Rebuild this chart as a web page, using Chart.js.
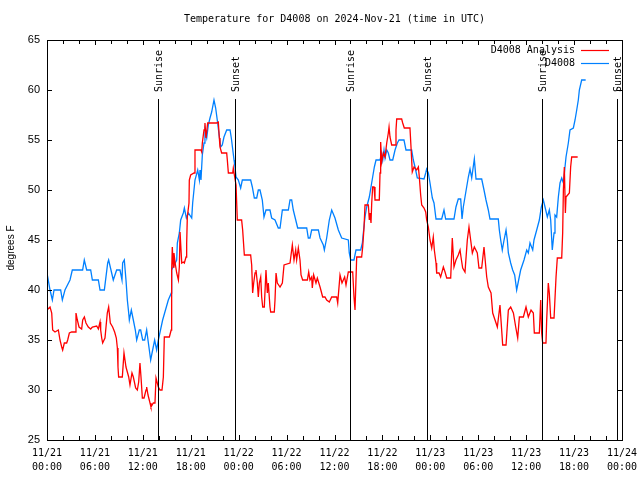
<!DOCTYPE html>
<html>
<head>
<meta charset="utf-8">
<script src="https://cdn.jsdelivr.net/npm/chart.js@4/dist/chart.umd.min.js"></script>
<style>
  html, body { margin: 0; padding: 0; background: #ffffff; }
  canvas { display: block; }
</style>
</head>
<body>
<canvas id="c" width="640" height="480"></canvas>
<script>
// ---- Data (hours since 2024-11-21 00:00 UTC, degrees F) ----
const obsTimes = [0,0.38,0.67,0.88,1.71,1.92,2.25,2.88,3.17,4.46,4.67,4.97,5.47,5.68,6.43,6.64,7.18,7.6,7.72,8.01,8.3,8.72,9.14,9.39,9.47,9.68,9.89,10.06,10.23,10.31,10.56,10.81,11.06,11.23,11.56,11.73,11.98,12.23,12.48,12.73,12.98,13.23,13.48,13.73,13.94,14.48,15.19,15.57,15.61,16.24,16.32,16.57,16.74,17.07,17.2,17.45,17.7,18.12,18.24,18.53,18.87,19.08,19.16,19.28,19.45,19.66,19.78,20.0,20.2,20.41,20.62,20.91,21.12,21.37,21.58,21.75,21.95,22.16,22.5,22.92,23.08,23.42,23.54,23.67,23.96,24.25,24.46,25.5,25.71,25.96,26.26,26.46,26.67,26.96,27.17,27.42,27.92,28.13,28.55,28.96,29.18,29.47,30.22,30.43,30.64,30.84,31.39,32.52,32.72,32.93,33.14,33.98,34.19,34.6,34.73,35.02,35.35,35.65,36.06,36.48,36.9,37.73,37.85,38.03,38.44,38.69,39.28,39.49,39.61,39.82,40.03,40.36,40.57,40.78,40.99,41.2,41.7,41.91,42.04,42.2,42.33,42.54,42.74,42.95,43.29,43.58,43.87,44.08,44.7,44.95,45.66,45.87,46.08,46.37,47.21,47.42,47.54,47.75,47.96,48.25,48.46,48.71,49.42,49.71,49.92,50.96,51.21,51.5,51.8,51.97,52.13,52.34,52.55,52.76,52.97,53.18,53.51,53.72,54.43,54.72,54.97,55.26,55.47,56.51,56.64,56.81,57.01,57.23,57.48,57.64,57.77,58.06,58.31,58.56,58.81,59.06,59.31,59.73,60.07,60.27,60.48,60.82,60.98,61.32,61.65,61.9,62.15,62.36,62.65,62.9,63.07,63.27,63.49,63.61,63.82,64.03,64.24,64.45,64.66,64.99,65.28,65.49,65.91,66.12,66.33,66.53,66.66,66.95,67.45];
const obsTemps = [41.7,40.0,39.0,40.0,40.0,39.0,40.0,41.0,42.0,42.0,43.0,42.0,42.0,41.0,41.0,40.0,40.0,42.7,43.0,42.0,41.0,42.0,42.0,41.0,42.7,43.0,41.0,39.0,37.7,37.0,38.0,37.0,36.0,35.0,36.0,36.0,35.0,35.0,36.0,34.5,33.0,34.0,35.0,34.0,35.0,37.0,39.0,39.7,42.0,43.0,44.7,45.7,47.0,47.7,48.2,47.2,47.7,47.2,48.7,51.0,52.0,51.0,52.0,51.0,53.5,54.7,56.0,55.2,56.5,57.2,57.8,59.0,58.2,56.7,55.3,54.3,54.5,55.3,56.0,56.0,55.2,53.0,52.3,51.3,51.0,50.2,51.0,51.0,50.3,49.2,49.2,50.0,50.0,49.0,47.3,48.0,48.0,47.2,47.0,46.2,46.2,48.0,48.0,49.0,49.0,48.0,46.2,46.2,45.2,45.2,46.0,46.0,45.2,44.5,44.0,45.2,47.0,48.0,47.2,46.0,45.2,45.0,43.7,43.0,43.0,44.0,44.0,44.7,45.7,47.3,48.3,49.3,50.3,51.3,52.3,53.0,53.0,53.7,53.0,54.0,53.2,54.0,53.7,53.0,53.0,54.0,54.7,55.0,55.0,54.0,54.0,53.0,52.3,51.2,51.1,51.7,52.1,51.7,50.7,49.2,48.7,47.1,47.1,48.0,47.1,47.1,48.3,49.1,49.1,47.1,48.3,49.3,50.3,51.3,52.1,51.2,53.1,51.1,51.1,50.0,49.0,48.0,47.1,47.1,46.0,45.0,44.0,45.0,46.0,45.0,43.7,42.7,42.0,41.5,40.0,41.0,42.0,43.0,44.0,43.7,44.7,44.0,45.0,46.0,47.0,48.3,49.0,48.3,47.3,48.0,47.0,44.0,45.7,47.5,47.3,49.3,50.7,51.2,50.7,53.3,54.7,56.0,56.2,57.0,58.0,59.0,60.0,61.0,61.0];

const anaTimes = [0,0.38,0.59,0.71,1.0,1.42,1.63,1.84,1.96,2.17,2.46,2.59,2.8,3.09,3.51,3.63,3.8,4.01,4.34,4.47,4.68,4.88,5.17,5.47,5.68,6.22,6.43,6.64,6.72,6.85,6.97,7.26,7.55,7.72,7.93,8.22,8.47,8.68,8.81,8.89,8.97,9.43,9.64,9.89,10.06,10.23,10.39,10.64,10.81,11.1,11.31,11.48,11.64,11.77,11.94,12.15,12.4,12.48,12.65,12.9,13.02,13.31,13.52,13.65,13.81,13.94,14.15,14.4,14.57,14.69,15.32,15.55,15.61,15.69,15.82,15.9,16.03,16.24,16.45,16.57,16.66,16.87,17.07,17.2,17.41,17.49,17.57,17.78,17.82,17.99,18.41,18.53,19.28,19.37,19.45,19.66,19.78,19.91,20.12,21.24,21.45,21.58,21.66,21.87,22.5,22.58,22.71,23.25,23.33,23.42,23.67,23.83,24.37,24.5,24.71,25.5,25.63,25.75,25.88,26.05,26.17,26.34,26.46,26.59,26.76,26.88,27.01,27.21,27.42,27.59,27.71,27.92,28.01,28.46,28.55,28.68,28.84,29.18,29.47,29.68,30.43,30.72,30.93,31.14,31.26,31.47,31.68,31.81,32.01,32.6,32.77,32.93,33.14,33.22,33.39,33.68,33.85,34.19,34.52,34.81,35.02,35.35,35.65,36.27,36.4,36.69,36.94,37.27,37.44,37.73,38.28,38.44,38.57,38.78,39.4,39.53,39.7,39.82,40.24,40.36,40.45,40.57,40.66,40.78,40.95,41.07,41.61,41.7,41.78,41.91,42.12,42.33,42.54,42.74,42.83,42.95,43.16,43.58,43.7,43.79,44.41,44.54,44.74,45.45,45.58,45.74,45.96,46.29,46.5,46.62,46.79,46.92,47.21,47.42,47.54,47.75,47.96,48.17,48.37,48.5,48.71,48.79,49.09,49.29,49.63,49.84,50.05,50.55,50.75,50.96,51.21,51.5,51.72,51.84,52.05,52.34,52.63,52.84,53.05,53.26,53.51,53.88,54.09,54.43,54.72,55.06,55.26,55.6,55.81,56.1,56.39,56.72,57.06,57.48,57.77,58.06,58.4,58.69,58.94,59.15,59.65,59.98,60.27,60.61,60.9,61.02,61.65,61.82,61.94,62.07,62.48,62.57,62.77,62.9,63.07,63.49,63.74,63.9,64.45,64.57,64.66,64.78,64.91,64.99,65.41,65.57,65.7,66.45];
const anaTemps = [38.0,38.3,37.7,36.0,35.8,36.0,35.0,34.3,34.0,34.7,34.7,35.0,35.7,35.8,35.8,37.7,37.0,36.3,36.1,37.0,37.3,36.7,36.3,36.1,36.3,36.4,36.1,36.8,36.0,35.2,34.7,35.2,37.7,38.3,36.7,36.3,35.8,35.2,34.2,32.3,31.3,31.3,33.7,32.3,31.8,31.3,30.5,31.7,31.3,30.2,30.0,30.8,32.7,31.3,29.2,29.2,30.0,30.3,29.5,28.7,28.3,28.7,28.7,31.2,30.7,30.3,30.0,30.0,31.3,35.3,35.3,36.0,42.0,44.3,42.3,43.7,42.8,41.7,41.0,42.3,45.8,42.7,42.8,42.7,43.3,44.7,47.3,48.7,51.0,51.5,51.7,54.0,54.0,53.8,54.7,56.0,56.7,55.2,56.7,56.7,56.8,55.2,54.3,53.7,53.7,53.0,51.7,51.7,52.2,51.7,50.5,47.0,47.0,46.0,43.5,43.5,42.5,39.7,40.7,41.7,42.0,40.7,39.3,40.7,41.3,39.3,38.3,38.3,42.0,39.7,40.7,38.3,37.8,37.8,39.0,41.7,40.7,40.3,40.7,42.5,42.7,44.5,43.0,44.0,43.0,44.2,43.0,41.5,41.0,41.0,41.8,41.0,41.3,40.2,41.5,40.7,41.2,40.3,39.3,39.3,39.0,38.8,39.3,39.3,38.7,41.5,40.7,41.3,40.5,41.8,41.8,39.3,38.0,43.3,43.3,44.3,46.3,48.5,48.5,47.0,47.7,46.7,48.7,50.3,50.3,49.0,49.0,51.7,54.8,52.8,53.7,53.3,54.7,55.7,56.3,55.3,54.5,54.5,56.0,57.1,57.1,56.7,56.2,56.2,54.3,51.8,52.3,52.0,52.3,51.3,49.5,48.5,48.2,47.8,47.0,46.3,45.0,44.2,45.3,44.0,42.7,41.7,41.7,41.3,42.3,41.8,41.2,41.2,45.2,42.3,43.0,43.5,44.0,43.3,42.2,41.8,45.0,46.3,45.0,43.7,44.3,43.7,42.2,42.2,44.3,41.3,40.3,39.7,37.7,37.0,36.3,38.5,34.5,34.5,38.0,38.3,37.7,36.3,35.2,37.3,37.3,38.3,37.3,38.0,37.7,35.7,35.7,39.0,35.7,34.7,34.7,37.0,40.7,39.7,37.2,37.2,41.3,43.2,43.2,45.7,50.0,52.3,47.7,49.3,49.7,52.3,53.3,53.3];

const seriesNames = ['D4008 Analysis', 'D4008'];
const sunTimes = [13.95, 23.54, 38.0, 47.56, 61.96, 71.4];
const sunLabels = ['Sunrise', 'Sunset', 'Sunrise', 'Sunset', 'Sunrise', 'Sunset'];
const xTickHours = [0, 6, 12, 18, 24, 30, 36, 42, 48, 54, 60, 66, 72];
const xTickDates = ['11/21','11/21','11/21','11/21','11/22','11/22','11/22','11/22','11/23','11/23','11/23','11/23','11/24'];
const xTickTimes = ['00:00','06:00','12:00','18:00','00:00','06:00','12:00','18:00','00:00','06:00','12:00','18:00','00:00'];
const titleText = 'Temperature for D4008 on 2024-Nov-21 (time in UTC)';
const yAxisLabel = 'degrees F';

const RED = '#ff0000';
const BLUE = 'rgb(0,128,255)';
const MONO = '"DejaVu Sans Mono", "Liberation Mono", monospace';
const SANS = '"Liberation Sans", Arial, sans-serif';

const toPts = (ts, vs) => ts.map((t, i) => ({ x: t, y: vs[i] }));

const gnuplotDecor = {
  id: 'gnuplotDecor',
  afterDatasetsDraw(chart) {
    const ctx = chart.ctx;
    const a = chart.chartArea;
    const xs = chart.scales.x, ys = chart.scales.y;
    ctx.save();
    ctx.strokeStyle = '#000';
    ctx.lineWidth = 1;
    ctx.fillStyle = '#000';
    ctx.font = '10px ' + MONO;
    sunTimes.forEach((t, i) => {
      const x = Math.round(xs.getPixelForValue(t)) + 0.5;
      ctx.beginPath();
      ctx.moveTo(x, 99);
      ctx.lineTo(x, a.bottom);
      ctx.stroke();
      ctx.save();
      ctx.translate(x + 0.5, 92);
      ctx.rotate(-Math.PI / 2);
      ctx.textAlign = 'left';
      ctx.textBaseline = 'middle';
      ctx.fillText(sunLabels[i], 0, 0);
      ctx.restore();
    });
    ctx.strokeRect(Math.round(a.left) + 0.5, Math.round(a.top) + 0.5, Math.round(a.right - a.left), Math.round(a.bottom - a.top));
    for (let h = 0; h <= 72; h += 2) {
      const x = Math.round(xs.getPixelForValue(h)) + 0.5;
      const len = (h % 6 === 0) ? 5 : 4;
      ctx.beginPath();
      ctx.moveTo(x, a.bottom); ctx.lineTo(x, a.bottom - len);
      ctx.moveTo(x, a.top); ctx.lineTo(x, a.top + len);
      ctx.stroke();
    }
    for (let v = 25; v <= 65; v += 5) {
      const y = Math.round(ys.getPixelForValue(v)) + 0.5;
      ctx.beginPath();
      ctx.moveTo(a.left, y); ctx.lineTo(a.left + 5, y);
      ctx.moveTo(a.right, y); ctx.lineTo(a.right - 5, y);
      ctx.stroke();
    }
    ctx.font = '10px ' + MONO;
    ctx.textAlign = 'center';
    ctx.textBaseline = 'middle';
    ctx.fillText(titleText, (a.left + a.right) / 2, 19);
    ctx.save();
    ctx.font = '10px ' + SANS;
    ctx.translate(11, 248);
    ctx.rotate(-Math.PI / 2);
    ctx.textAlign = 'center';
    ctx.textBaseline = 'middle';
    ctx.fillText(yAxisLabel, 0, 0);
    ctx.restore();
    ctx.font = '10px ' + MONO;
    ctx.textAlign = 'right';
    ctx.textBaseline = 'middle';
    chart.data.datasets.forEach((ds, i) => {
      const y = 50 + i * 13;
      ctx.fillStyle = '#000';
      ctx.fillText(ds.label, 575, y);
      ctx.strokeStyle = ds.borderColor;
      ctx.lineWidth = 1.2;
      ctx.beginPath();
      ctx.moveTo(581, Math.round(y) + 0.5);
      ctx.lineTo(609, Math.round(y) + 0.5);
      ctx.stroke();
    });
    ctx.restore();
  }
};

new Chart(document.getElementById('c'), {
  type: 'line',
  data: {
    datasets: [
      { label: seriesNames[0], data: toPts(anaTimes, anaTemps), borderColor: RED, backgroundColor: RED, borderWidth: 1.3, pointRadius: 0, tension: 0, fill: false },
      { label: seriesNames[1], data: toPts(obsTimes, obsTemps), borderColor: BLUE, backgroundColor: BLUE, borderWidth: 1.3, pointRadius: 0, tension: 0, fill: false }
    ]
  },
  options: {
    responsive: false,
    animation: false,
    events: [],
    layout: { padding: { top: 40, right: 18, left: 0, bottom: 0 } },
    plugins: { legend: { display: false }, title: { display: false }, tooltip: { enabled: false } },
    scales: {
      x: {
        type: 'linear', min: 0, max: 72,
        afterBuildTicks: (s) => { s.ticks = xTickHours.map(v => ({ value: v })); },
        afterFit: (s) => { s.height = 40; s.paddingLeft = 0; s.paddingRight = 0; },
        ticks: {
          autoSkip: false, maxRotation: 0, minRotation: 0, padding: 7,
          color: '#000', font: { family: MONO, size: 10, lineHeight: 1.35 },
          callback: (v) => { const i = xTickHours.indexOf(v); return i < 0 ? '' : [xTickDates[i], xTickTimes[i]]; }
        },
        grid: { display: false, drawTicks: false },
        border: { display: false }
      },
      y: {
        min: 25, max: 65,
        afterFit: (s) => { s.width = 47; s.paddingTop = 0; s.paddingBottom = 0; },
        ticks: { stepSize: 5, padding: 7, color: '#000', font: { family: SANS, size: 11 } },
        grid: { display: false, drawTicks: false },
        border: { display: false }
      }
    }
  },
  plugins: [gnuplotDecor]
});
</script>
</body>
</html>
